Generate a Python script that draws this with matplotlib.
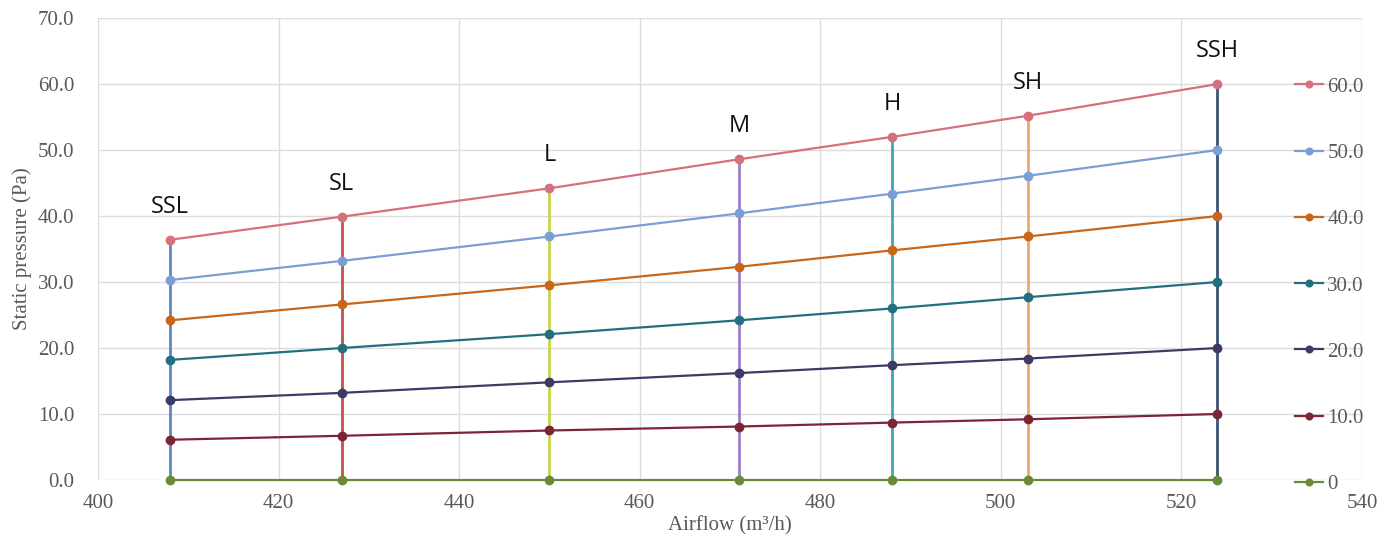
import matplotlib
matplotlib.use("Agg")
from matplotlib import pyplot as plt

# fan speed steps and their airflow (m3/h)
speeds = ["SSL", "SL", "L", "M", "H", "SH", "SSH"]
airflow = [408, 427, 450, 471, 488, 503, 524]

# static pressure (Pa) at each speed, one curve per rated ESP setting
series_names = ["60.0", "50.0", "40.0", "30.0", "20.0", "10.0", "0"]
p60 = [36.4, 39.9, 44.2, 48.6, 52.0, 55.2, 60.0]
p50 = [30.3, 33.2, 36.9, 40.4, 43.4, 46.1, 50.0]
p40 = [24.2, 26.6, 29.5, 32.3, 34.8, 36.9, 40.0]
p30 = [18.2, 20.0, 22.1, 24.2, 26.0, 27.7, 30.0]
p20 = [12.1, 13.2, 14.8, 16.2, 17.4, 18.4, 20.0]
p10 = [6.1, 6.7, 7.5, 8.1, 8.7, 9.2, 10.0]
p0 = [0, 0, 0, 0, 0, 0, 0]
pressures = [p60, p50, p40, p30, p20, p10, p0]

line_colors = ["#d6707c", "#7b9fd4", "#c8661a", "#236f82",
               "#3e3a65", "#7d2535", "#6b8a37"]
speed_colors = ["#5b87c5", "#c0504d", "#c8d44a", "#9a80c8",
                "#3fa6b8", "#f0a868", "#3b5374"]

gray = "#595959"
serif = ["Liberation Serif", "DejaVu Serif"]
fs = 15

fig = plt.figure(figsize=(13.92, 5.47), dpi=100)
ax = fig.add_axes([0.0704, 0.1225, 0.908, 0.8445])

# vertical line for each speed step, from 0 up to the highest curve
for i, x in enumerate(airflow):
    top = max(p[i] for p in pressures)
    ax.plot([x, x], [0, top], color=speed_colors[i], lw=2, zorder=2)
    ax.text(x, top + 5.0, speeds[i], ha="center", va="center",
            fontsize=17, family=["Open Sans", "DejaVu Sans"], color="#111111")

for name, vals, c in zip(series_names, pressures, line_colors):
    ax.plot(airflow, vals, color=c, lw=1.6, marker="o", markersize=6,
            label=name, zorder=3, clip_on=False)

ax.set_xlim(400, 540)
ax.set_ylim(0, 70)
ax.set_xticks(range(400, 541, 20))
ax.set_yticks(range(0, 71, 10))
ax.set_yticklabels(["%.1f" % v for v in range(0, 71, 10)])
ax.grid(True, color="#dcdcdc", lw=1, zorder=0)
for s in ax.spines.values():
    s.set_visible(False)
ax.tick_params(length=0, labelsize=fs, labelcolor=gray)
ax.tick_params(axis="x", pad=10)
ax.tick_params(axis="y", pad=17)
for lab in ax.get_xticklabels() + ax.get_yticklabels():
    lab.set_family(serif)

ax.set_xlabel("Airflow (m³/h)", fontsize=fs, color=gray,
              family=serif, labelpad=2)
ax.set_ylabel("Static pressure (Pa)", fontsize=fs, color=gray,
              family=serif, labelpad=4)

leg = ax.legend(loc="upper left", bbox_to_anchor=(0.947, 0.872), frameon=False,
                handlelength=1.35, handletextpad=0.2, labelspacing=2.24,
                borderaxespad=0, borderpad=0, markerscale=0.8,
                prop={"family": serif, "size": fs})
for t in leg.get_texts():
    t.set_color(gray)

fig.savefig("out.png", dpi=100)
